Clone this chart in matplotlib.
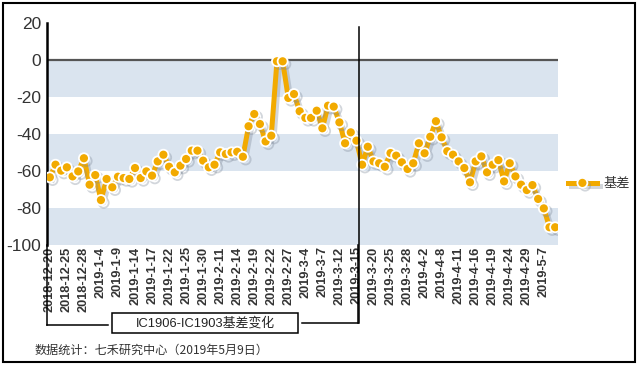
import matplotlib
matplotlib.use('Agg')
import matplotlib.pyplot as plt
import matplotlib.patheffects as pe
from matplotlib.lines import Line2D
from matplotlib.patches import Rectangle

plt.rcParams['font.family'] = ['Liberation Sans', 'Noto Sans CJK SC', 'DejaVu Sans']

# trading days (IC1906 - IC1903 basis)
dates = ['2018-12-20', '2018-12-21', '2018-12-24', '2018-12-25', '2018-12-26', '2018-12-27', '2018-12-28',
         '2019-1-2', '2019-1-3', '2019-1-4', '2019-1-7', '2019-1-8', '2019-1-9', '2019-1-10', '2019-1-11',
         '2019-1-14', '2019-1-15', '2019-1-16', '2019-1-17', '2019-1-18', '2019-1-21', '2019-1-22',
         '2019-1-23', '2019-1-24', '2019-1-25', '2019-1-28', '2019-1-29', '2019-1-30', '2019-1-31',
         '2019-2-1', '2019-2-11', '2019-2-12', '2019-2-13', '2019-2-14', '2019-2-15', '2019-2-18',
         '2019-2-19', '2019-2-20', '2019-2-21', '2019-2-22', '2019-2-25', '2019-2-26', '2019-2-27',
         '2019-2-28', '2019-3-1', '2019-3-4', '2019-3-5', '2019-3-6', '2019-3-7', '2019-3-8',
         '2019-3-11', '2019-3-12', '2019-3-13', '2019-3-14', '2019-3-15', '2019-3-18', '2019-3-19',
         '2019-3-20', '2019-3-21', '2019-3-22', '2019-3-25', '2019-3-26', '2019-3-27', '2019-3-28',
         '2019-3-29', '2019-4-1', '2019-4-2', '2019-4-3', '2019-4-4', '2019-4-8', '2019-4-9',
         '2019-4-10', '2019-4-11', '2019-4-12', '2019-4-15', '2019-4-16', '2019-4-17', '2019-4-18',
         '2019-4-19', '2019-4-22', '2019-4-23', '2019-4-24', '2019-4-25', '2019-4-26', '2019-4-29',
         '2019-4-30', '2019-5-6', '2019-5-7', '2019-5-8', '2019-5-9']

basis = [-63.4, -56.6, -59.8, -58.0, -62.9, -60.2, -53.1, -67.4, -62.2, -75.7,
         -64.3, -68.8, -63.1, -63.8, -64.3, -58.4, -63.8, -60.2, -62.5, -54.8,
         -51.2, -57.7, -60.7, -57.1, -53.5, -49.0, -49.0, -54.4, -58.0, -56.6,
         -49.9, -50.8, -49.9, -49.6, -52.3, -35.8, -29.2, -34.6, -44.0, -40.9,
         -0.7, -0.7, -20.5, -18.4, -27.7, -31.3, -31.3, -27.4, -36.9, -24.7,
         -25.2, -33.7, -45.0, -39.1, -43.6, -56.6, -46.9, -54.8, -55.8, -57.7,
         -50.3, -51.7, -55.3, -58.9, -55.8, -45.0, -50.4, -41.5, -33.1, -41.8,
         -49.3, -51.2, -54.8, -58.4, -66.1, -54.8, -52.1, -60.7, -56.6, -54.1,
         -65.6, -55.8, -62.9, -67.4, -70.3, -67.6, -75.1, -80.2, -90.4, -90.4]

yticks = [20, 0, -20, -40, -60, -80, -100]
bands = [(-20, 0), (-60, -40), (-100, -80)]

W, H = 639, 365


def fx(x):
    return x / W


def fy(y):
    return 1 - y / H


fig = plt.figure(figsize=(W / 100, H / 100), dpi=100)
ax = fig.add_axes([fx(47), fy(245), 511 / W, 222 / H])

x = list(range(len(basis)))

for lo, hi in bands:
    ax.axhspan(lo, hi, color='#dae4ef', lw=0, zorder=0)
ax.axhline(0, color='#555555', lw=1.6, zorder=1)

line, = ax.plot(x, basis, color='#f2aa00', lw=3.6, marker='o', ms=7.2,
                mfc='#f2aa00', mec='white', mew=1.3, zorder=3, label='基差')
line.set_path_effects([pe.SimpleLineShadow(offset=(2, -2), shadow_color='#7f8a99', alpha=0.35),
                       pe.Normal()])

ax.set_xlim(-0.5, len(basis) - 0.5)
ax.set_ylim(-100, 20)
ax.set_yticks(yticks)
ax.set_yticklabels([str(v) for v in yticks], fontsize=12.5, color='#333333')
ax.set_xticks(x[::3])
ax.set_xticklabels(dates[::3], rotation=90, fontsize=9.2, fontweight='bold', color='#333333')
ax.tick_params(axis='x', length=0, pad=1)
ax.tick_params(axis='y', length=0, pad=4)
for s in ['top', 'right', 'bottom']:
    ax.spines[s].set_visible(False)
ax.spines['left'].set_linewidth(1.8)
ax.spines['left'].set_color('black')

# marker between periods
ax.axvline(54.4, color='black', lw=1.1, ymin=-0.35, ymax=0.98, clip_on=False, zorder=4)

# bracket and title box
lines = [([46.5, 46.5], [245, 325]), ([46.5, 108], [325, 325]),
         ([302, 358], [322.7, 322.7]), ([358, 358], [245, 322.7])]
for xs, ys in lines:
    fig.add_artist(Line2D([fx(v) for v in xs], [fy(v) for v in ys], color='black', lw=1.1))
fig.add_artist(Rectangle((fx(112), fy(333)), 186 / W, 20 / H, fill=False, ec='black', lw=1.1,
                         transform=fig.transFigure))
fig.text(fx(205), fy(323.5), 'IC1906-IC1903基差变化', ha='center', va='center',
         fontsize=9.3, color='#222222')

fig.text(fx(35), fy(350), '数据统计：七禾研究中心（2019年5月9日）', ha='left', va='center',
         fontsize=8.7, color='#333333', family=['Noto Sans CJK SC', 'DejaVu Sans'])

leg = ax.legend(loc='center left', bbox_to_anchor=(fx(556), fy(184)), bbox_transform=fig.transFigure,
                frameon=False, handlelength=2.2, handletextpad=0.5,
                prop={'family': ['Noto Sans CJK SC', 'DejaVu Sans'], 'size': 9.5})
for t in leg.get_texts():
    t.set_color('#333333')

fig.add_artist(Rectangle((fx(3), fy(362)), 632 / W, 359 / H, fill=False, ec='black', lw=1.5,
                         transform=fig.transFigure))

fig.savefig('out.png', dpi=100)
